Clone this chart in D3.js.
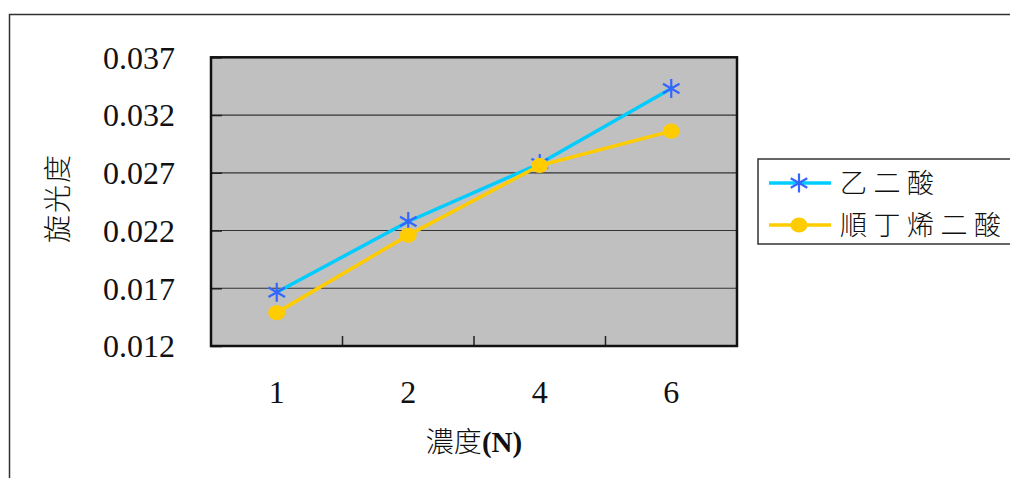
<!DOCTYPE html>
<html><head><meta charset="utf-8">
<script src="https://cdn.jsdelivr.net/npm/d3@7"></script>
<style>
html,body{margin:0;padding:0;background:#fff;overflow:hidden}
svg{display:block}
</style></head>
<body>
<svg id="chart" width="1010" height="478"></svg>
<script>
const categories = ["1", "2", "4", "6"];
const seriesNames = ["乙二酸", "順丁烯二酸"];
const acidOxalic = [0.01665, 0.02278, 0.0278, 0.0343];
const acidMaleic = [0.01489, 0.0216, 0.02763, 0.03061];
const yTicks = [0.012, 0.017, 0.022, 0.027, 0.032, 0.037];
const xTitle = "濃度(N)";
const yTitle = "旋光度";

const svg = d3.select("#chart");
const serif = "'Liberation Serif','DejaVu Serif',serif";
const cjk = "'Noto Sans CJK TC','Noto Sans CJK SC',sans-serif";

// outer frame
svg.append("rect").attr("x", 9.5).attr("y", 14.5).attr("width", 1020).attr("height", 500)
  .attr("fill", "#fff").attr("stroke", "#333").attr("stroke-width", 1.5);

const plot = {l: 211, r: 737, t: 57.3, b: 346};
const x = d3.scaleBand().domain(categories).range([plot.l, plot.r]).padding(0);
const y = d3.scaleLinear().domain([0.012, 0.037]).range([plot.b, plot.t]);
const cx = d => x(d) + x.bandwidth() / 2;

// plot background
svg.append("rect").attr("x", plot.l).attr("y", plot.t).attr("width", plot.r - plot.l).attr("height", plot.b - plot.t)
  .attr("fill", "#c0c0c0");

// gridlines
svg.append("g").selectAll("line").data(yTicks.slice(1, -1)).join("line")
  .attr("x1", plot.l).attr("x2", plot.r).attr("y1", d => y(d)).attr("y2", d => y(d))
  .attr("stroke", "#333").attr("stroke-width", 1.2);

// y axis (inside ticks) with labels
const yAxis = svg.append("g").attr("transform", `translate(${plot.l},0)`)
  .call(d3.axisLeft(y).tickValues(yTicks).tickFormat(d3.format(".3f")).tickSize(-11).tickPadding(36));
yAxis.select(".domain").remove();
yAxis.selectAll(".tick line").attr("stroke", "#222").attr("stroke-width", 1.5);
yAxis.selectAll(".tick text").attr("font-family", serif).attr("font-size", 32).attr("fill", "#111")
  .attr("dy", "0.34em");

// x axis tick marks at category boundaries
svg.append("g").selectAll("line").data(categories.slice(1)).join("line")
  .attr("x1", d => x(d)).attr("x2", d => x(d)).attr("y1", plot.b).attr("y2", plot.b - 10)
  .attr("stroke", "#222").attr("stroke-width", 1.5);
svg.append("g").selectAll("text").data(categories).join("text")
  .attr("x", d => cx(d)).attr("y", 403).attr("text-anchor", "middle")
  .attr("font-family", serif).attr("font-size", 32).attr("fill", "#111").text(d => d);

// plot border
svg.append("rect").attr("x", plot.l).attr("y", plot.t).attr("width", plot.r - plot.l).attr("height", plot.b - plot.t)
  .attr("fill", "none").attr("stroke", "#111").attr("stroke-width", 2.5);

// titles
svg.append("text").attr("x", 474).attr("y", 452).attr("text-anchor", "middle")
  .attr("font-family", cjk).attr("fill", "#111")
  .selectAll("tspan").data([{t: "濃度", f: cjk, w: 300, s: 28}, {t: "(N)", f: serif, w: 700, s: 29}]).join("tspan")
  .attr("font-family", d => d.f).attr("font-weight", d => d.w).attr("font-size", d => d.s).text(d => d.t);
svg.append("text").attr("transform", "translate(68,198) rotate(-90)").attr("text-anchor", "middle")
  .attr("font-family", cjk).attr("font-size", 28).attr("font-weight", 300).attr("letter-spacing", 2).attr("fill", "#111").text(yTitle);

// lines
const line = d3.line().x(d => cx(d[0])).y(d => y(d[1]));
const s1 = categories.map((c, i) => [c, acidOxalic[i]]);
const s2 = categories.map((c, i) => [c, acidMaleic[i]]);
svg.append("path").datum(s1).attr("d", line).attr("fill", "none").attr("stroke", "#00CCFF").attr("stroke-width", 3.5);

function star(g, px, py, s) {
  const p = d3.path();
  p.moveTo(px, py - s); p.lineTo(px, py + s);
  const dx = s * 0.87, dy = s * 0.5;
  p.moveTo(px - dx, py - dy); p.lineTo(px + dx, py + dy);
  p.moveTo(px - dx, py + dy); p.lineTo(px + dx, py - dy);
  g.append("path").attr("d", p.toString()).attr("stroke", "#3366FF").attr("stroke-width", 2.2).attr("fill", "none");
}
const g1 = svg.append("g");
s1.forEach(d => star(g1, cx(d[0]), y(d[1]), 9.5));

svg.append("path").datum(s2).attr("d", line).attr("fill", "none").attr("stroke", "#FFCC00").attr("stroke-width", 3.5);
svg.append("g").selectAll("ellipse").data(s2).join("ellipse")
  .attr("cx", d => cx(d[0])).attr("cy", d => y(d[1])).attr("rx", 8.5).attr("ry", 7.5).attr("fill", "#FFCC00");

// legend
const lg = svg.append("g");
lg.append("rect").attr("x", 758).attr("y", 159).attr("width", 270).attr("height", 85)
  .attr("fill", "#fff").attr("stroke", "#333").attr("stroke-width", 1.5);
const rows = [{n: seriesNames[0], c: "#00CCFF", y: 183, m: "star"}, {n: seriesNames[1], c: "#FFCC00", y: 225, m: "dot"}];
rows.forEach(r => {
  lg.append("line").attr("x1", 769).attr("x2", 831).attr("y1", r.y).attr("y2", r.y).attr("stroke", r.c).attr("stroke-width", 3.5);
  if (r.m === "star") star(lg, 799, r.y, 9.5);
  else lg.append("ellipse").attr("cx", 799).attr("cy", r.y).attr("rx", 8.5).attr("ry", 7.5).attr("fill", "#FFCC00");
  lg.append("text").attr("x", 840).attr("y", r.y + 10).attr("font-family", cjk).attr("font-size", 27)
    .attr("font-weight", 300).attr("letter-spacing", 6.5).attr("fill", "#111").text(r.n);
});
</script>
</body></html>
